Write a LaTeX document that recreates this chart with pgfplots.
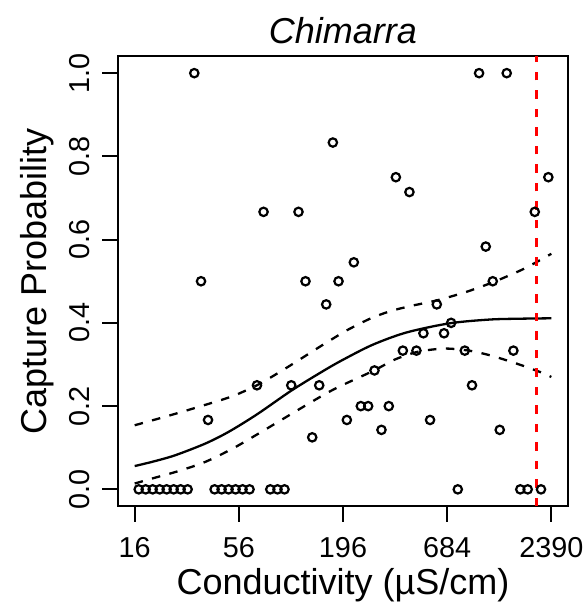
\documentclass[border=0pt]{standalone}
\usepackage{fontspec}
\setmainfont{Liberation Sans}
\usepackage{pgfplots}
\pgfplotsset{compat=1.18}
\usepackage{pgfplotstable}

% x = ln(conductivity, uS/cm), y = capture probability
\pgfplotstableread{
x y
2.821 0
2.905 0
2.989 0
3.073 0
3.157 0
3.241 0
3.325 0
3.409 0
3.733 0
3.817 0
3.901 0
3.985 0
4.069 0
4.153 0
4.402 0
4.489 0
4.573 0
6.655 0
7.406 0
7.495 0
7.655 0
3.489 1.0
3.570 0.5
3.654 0.1667
4.242 0.25
4.321 0.6667
4.654 0.25
4.741 0.6667
4.825 0.5
4.906 0.125
4.990 0.25
5.074 0.4444
5.154 0.8333
5.222 0.5
5.322 0.1667
5.406 0.5455
5.490 0.2
5.578 0.2
5.654 0.2857
5.738 0.1429
5.826 0.2
5.911 0.75
5.995 0.3333
6.074 0.7143
6.158 0.3333
6.242 0.375
6.322 0.1667
6.403 0.4444
6.490 0.375
6.575 0.4
6.739 0.3333
6.826 0.25
6.911 1.0
6.991 0.5833
7.075 0.5
7.159 0.1429
7.243 1.0
7.323 0.3333
7.580 0.6667
7.743 0.75
}\obsdata

\pgfplotstableread{
x y
2.773 0.056
3.000 0.067
3.261 0.082
3.621 0.110
3.900 0.138
4.241 0.180
4.661 0.238
5.060 0.287
5.300 0.314
5.639 0.348
6.040 0.377
6.559 0.399
7.039 0.408
7.400 0.410
7.779 0.411
}\fitdata

\pgfplotstableread{
x y
2.773 0.154
3.200 0.178
3.621 0.203
3.950 0.224
4.241 0.250
4.450 0.274
4.661 0.300
5.000 0.343
5.219 0.370
5.320 0.382
5.600 0.410
5.842 0.428
6.100 0.441
6.403 0.454
6.750 0.474
7.082 0.498
7.450 0.530
7.779 0.566
}\upperdata

\pgfplotstableread{
x y
2.773 0.014
2.982 0.026
3.300 0.044
3.621 0.066
3.950 0.098
4.261 0.134
4.662 0.182
5.000 0.222
5.222 0.246
5.642 0.285
5.900 0.312
6.163 0.330
6.400 0.337
6.562 0.338
6.800 0.333
7.043 0.322
7.350 0.303
7.643 0.282
7.779 0.270
}\lowerdata

\begin{document}
\begin{tikzpicture}
\begin{axis}[
  scale only axis,
  width=450pt, height=449.5pt,
  xmin=2.5723, xmax=7.9793,
  ymin=-0.04, ymax=1.04,
  axis line style={line width=2pt},
  tick align=outside, tick pos=left,
  major tick length=15.5pt,
  every tick/.style={black, line width=2pt},
  xtick={2.7726,4.0242,5.2758,6.5274,7.7790},
  xticklabels={16,56,196,684,2390},
  ytick={0,0.2,0.4,0.6,0.8,1.0},
  yticklabels={0.0,0.2,0.4,0.6,0.8,1.0},
  /pgf/number format/assume math mode=true,
  tick label style={font=\fontsize{28.8}{34}\selectfont},
  xticklabel style={anchor=north, inner sep=0pt, yshift=-16pt},
  yticklabel style={rotate=90, anchor=south, inner sep=0pt, yshift=13pt},
  label style={font=\fontsize{36}{42}\selectfont},
  xlabel={Conductivity (µS/cm)},
  xlabel style={at={(axis description cs:0.5,0)}, anchor=base, inner sep=0pt, yshift=-88pt},
  ylabel={Capture Probability},
  ylabel style={at={(axis description cs:0,0.5)}, anchor=base, inner sep=0pt, yshift=71pt},
  title={\itshape Chimarra},
  title style={font=\fontsize{36}{42}\selectfont, at={(axis description cs:0.5,1)}, anchor=base, inner sep=0pt, yshift=7pt},
  clip=false,
]
\addplot[only marks, mark=o, mark options={mark size=4.2pt, line width=2.2pt, draw=black}] table[x=x,y=y] {\obsdata};
\addplot[black, line width=2.3pt, smooth] table[x=x,y=y] {\fitdata};
\addplot[black, line width=2.3pt, smooth, dash pattern=on 8.5pt off 9.5pt] table[x=x,y=y] {\upperdata};
\addplot[black, line width=2.3pt, smooth, dash pattern=on 8.5pt off 9.5pt] table[x=x,y=y] {\lowerdata};
\addplot[red, line width=2.2pt, dash pattern=on 8.5pt off 10pt] coordinates {(7.601,-0.04) (7.601,1.04)};
\end{axis}
\pgfresetboundingbox
\path (-118pt,-97pt) rectangle (464pt,506pt);
\end{tikzpicture}
\end{document}
